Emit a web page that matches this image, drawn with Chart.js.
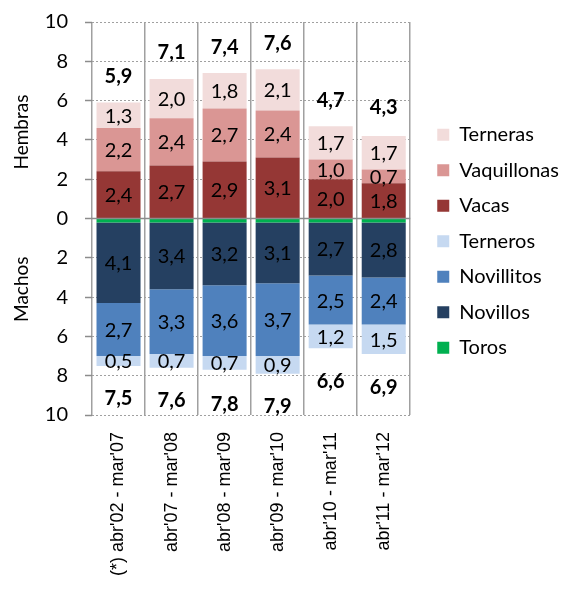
<!DOCTYPE html>
<html>
<head>
<meta charset="utf-8">
<script src="https://cdn.jsdelivr.net/npm/chart.js@4"></script>
<style>
  html, body { margin: 0; padding: 0; background: #fff; }
  #wrap { width: 561px; height: 598px; position: relative; }
</style>
</head>
<body>
<div id="wrap"><canvas id="stockChart"></canvas></div>
<script>
// categories
const periodos = ["(*) abr'02 - mar'07", "abr'07 - mar'08", "abr'08 - mar'09", "abr'09 - mar'10", "abr'10 - mar'11", "abr'11 - mar'12"];

// hembras (positive)
const vacas = [2.4, 2.7, 2.9, 3.1, 2.0, 1.8];
const vaquillonas = [2.2, 2.4, 2.7, 2.4, 1.0, 0.7];
const terneras = [1.3, 2.0, 1.8, 2.1, 1.7, 1.7];
const totalHembras = [5.9, 7.1, 7.4, 7.6, 4.7, 4.3];

// machos (drawn below zero)
const toros = [0.2, 0.2, 0.2, 0.2, 0.2, 0.2];
const novillos = [4.1, 3.4, 3.2, 3.1, 2.7, 2.8];
const novillitos = [2.7, 3.3, 3.6, 3.7, 2.5, 2.4];
const terneros = [0.5, 0.7, 0.7, 0.9, 1.2, 1.5];
const totalMachos = [7.5, 7.6, 7.8, 7.9, 6.6, 6.9];

const yTicks = [-10, -8, -6, -4, -2, 0, 2, 4, 6, 8, 10];

const neg = arr => arr.map(v => -v);
const fmt = v => Math.abs(v).toFixed(1).replace(".", ",");
const FONT = "Lato, 'Open Sans', sans-serif";

// legend order as in the picture
const legendOrder = ["Terneras", "Vaquillonas", "Vacas", "Terneros", "Novillitos", "Novillos", "Toros"];

// push the legend a bit away from the plot (layout caps its width)
const legendShift = {
    id: "legendShift",
    beforeDraw(chart) {
        chart.legend.left = chart.chartArea.right + 11.5;
        chart.legend.right = chart.width;
    }
};

const segmentLabels = {
    id: "segmentLabels",
    afterDatasetsDraw(chart) {
        const ctx = chart.ctx;
        const y = chart.scales.y;
        ctx.save();
        // zero line on top of bars
        ctx.strokeStyle = "#8c8c8c";
        ctx.lineWidth = 1.5;
        ctx.beginPath();
        ctx.moveTo(chart.chartArea.left, y.getPixelForValue(0));
        ctx.lineTo(chart.chartArea.right, y.getPixelForValue(0));
        ctx.stroke();

        ctx.textAlign = "center";
        ctx.textBaseline = "middle";
        ctx.fillStyle = "#000";
        ctx.font = "20px " + FONT;
        chart.data.datasets.forEach((ds, di) => {
            if (ds.label === "Toros") return;
            const meta = chart.getDatasetMeta(di);
            meta.data.forEach((bar, i) => {
                const p = bar.getProps(["x", "y", "base"], true);
                ctx.fillText(fmt(ds.data[i]), p.x, (p.y + p.base) / 2 + 1);
            });
        });

        // totals
        ctx.font = "bold 20px " + FONT;
        const meta0 = chart.getDatasetMeta(0);
        meta0.data.forEach((bar, i) => {
            const x = bar.getProps(["x"], true).x;
            ctx.fillText(fmt(totalHembras[i]), x, y.getPixelForValue(totalHembras[i]) - 26);
            ctx.fillText(fmt(totalMachos[i]), x, y.getPixelForValue(-totalMachos[i]) + 33);
        });

        // side titles
        ctx.font = "19px " + FONT;
        [["Hembras", 4.4], ["Machos", -3.6]].forEach(([t, v]) => {
            ctx.save();
            ctx.translate(22, y.getPixelForValue(v));
            ctx.rotate(-Math.PI / 2);
            ctx.fillText(t, 0, 0);
            ctx.restore();
        });
        ctx.restore();
    }
};

const ctx = document.getElementById("stockChart").getContext("2d");

new Chart(ctx, {
    type: "bar",
    data: {
        labels: periodos,
        datasets: [
            { label: "Vacas", data: vacas, backgroundColor: "#953735" },
            { label: "Vaquillonas", data: vaquillonas, backgroundColor: "#DA9694" },
            { label: "Terneras", data: terneras, backgroundColor: "#F2DCDB" },
            { label: "Toros", data: neg(toros), backgroundColor: "#00B050" },
            { label: "Novillos", data: neg(novillos), backgroundColor: "#254061" },
            { label: "Novillitos", data: neg(novillitos), backgroundColor: "#4F81BD" },
            { label: "Terneros", data: neg(terneros), backgroundColor: "#C6D9F1" }
        ].map(d => Object.assign(d, {
            borderWidth: 0,
            categoryPercentage: 1,
            barPercentage: 0.83
        }))
    },
    options: {
        responsive: true,
        maintainAspectRatio: false,
        animation: false,
        layout: { padding: { top: 0, right: 14 } },
        plugins: {
            tooltip: { enabled: false },
            legend: {
                position: "right",
                align: "start",
                title: { display: true, text: " ", padding: { top: 108 }, font: { size: 1 } },
                labels: {
                    font: { family: FONT, size: 20 },
                    color: "#000",
                    boxWidth: 12,
                    boxHeight: 12,
                    padding: 15.5,
                    sort: (a, b) => legendOrder.indexOf(a.text) - legendOrder.indexOf(b.text)
                }
            }
        },
        scales: {
            x: {
                stacked: true,
                grid: { offset: true, color: "#a0a0a0", lineWidth: 1.5, drawTicks: false },
                border: { display: false },
                ticks: {
                    minRotation: 90,
                    maxRotation: 90,
                    autoSkip: false,
                    padding: 17,
                    color: "#000",
                    font: { family: "'Liberation Sans', Arial, sans-serif", size: 18 }
                },
                afterFit: scale => { scale.height = 183; }
            },
            y: {
                stacked: true,
                min: -10,
                max: 10,
                afterBuildTicks: scale => { scale.ticks = yTicks.map(v => ({ value: v })); },
                grid: { color: "#a0a0a0", lineWidth: 1, tickLength: 7, tickColor: "#8c8c8c", tickWidth: 1.5 },
                border: { display: false, dash: [2, 2] },
                ticks: {
                    padding: 17,
                    color: "#000",
                    font: { family: FONT, size: 20, lineHeight: 0.5 },
                    callback: v => Math.abs(v)
                },
                afterFit: scale => { scale.width = 92; }
            }
        }
    },
    plugins: [legendShift, segmentLabels]
});
</script>
</body>
</html>
